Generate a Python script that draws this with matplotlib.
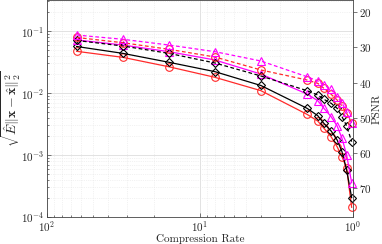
import numpy as np
import matplotlib
matplotlib.use("Agg")
import matplotlib.pyplot as plt
from matplotlib.ticker import LogLocator, NullFormatter

plt.rcParams['font.family'] = 'serif'
plt.rcParams['font.serif'] = ['cmr10', 'DejaVu Serif']
plt.rcParams['mathtext.fontset'] = 'cm'
plt.rcParams['axes.formatter.use_mathtext'] = True

# compression rates
cr = [64, 32, 16, 8, 4, 2, 1.70, 1.55, 1.39, 1.27, 1.18, 1.10, 1.02]

red_solid = [0.0470, 0.0376, 0.0265, 0.0179, 0.0109, 0.00453, 0.00353, 0.00270, 0.00197, 0.00136, 0.00094, 0.00061, 0.000143]
black_solid = [0.0562, 0.0436, 0.0313, 0.0221, 0.0132, 0.00567, 0.00431, 0.00324, 0.00244, 0.00175, 0.00113, 0.000573, 0.000205]
magenta_solid = [0.0716, 0.0594, 0.0464, 0.0341, 0.0202, 0.00964, 0.00752, 0.00567, 0.00415, 0.00294, 0.00186, 0.00100, 0.000357]
black_dashed = [0.0703, 0.0573, 0.0436, 0.0305, 0.0188, 0.0109, 0.00929, 0.00791, 0.00682, 0.00567, 0.00415, 0.00294, 0.00164]
red_dashed = [0.0786, 0.0647, 0.0507, 0.0381, 0.0235, 0.0162, 0.01432, 0.01191, 0.00953, 0.00771, 0.00617, 0.00471, 0.00328]
magenta_dashed = [0.0860, 0.0735, 0.0594, 0.0464, 0.0328, 0.0183, 0.01563, 0.01346, 0.01148, 0.00871, 0.00690, 0.00499, 0.00328]

psnr_ticks = [20, 30, 40, 50, 60, 70]

fig = plt.figure(figsize=(3.82, 2.44), dpi=100)
ax = fig.add_axes([0.123, 0.111, 0.801, 0.889])

RED = '#ff2a2a'
MAG = '#ff00ff'
BLK = '#000000'
ms = 5.5
lw = 0.9
series = [
    (red_solid, RED, '-', 'o'),
    (black_solid, BLK, '-', 'D'),
    (magenta_solid, MAG, '-', '^'),
    (black_dashed, BLK, '--', 'D'),
    (red_dashed, RED, '--', 'o'),
    (magenta_dashed, MAG, '--', '^'),
]
for vals, c, ls, m in series:
    mss = ms - 1.2 if m == 'D' else ms
    kw = dict(dashes=(3, 2)) if ls == '--' else {}
    ax.plot(cr, vals, color=c, linestyle=ls, linewidth=lw, marker=m,
            markersize=mss, markerfacecolor='none', markeredgecolor=c,
            markeredgewidth=0.8, clip_on=False, **kw)

ax.set_xscale('log')
ax.set_yscale('log')
ax.set_xlim(100, 1)
ax.set_ylim(1e-4, 10**-0.5)
ax.grid(True, which='major', color='#dddddd', linewidth=0.6, linestyle='-')
ax.grid(True, which='minor', color='#e6e6e6', linewidth=0.5, linestyle=':')
ax.yaxis.set_minor_locator(LogLocator(base=10, subs=np.arange(2, 10), numticks=20))
ax.yaxis.set_minor_formatter(NullFormatter())
ax.xaxis.set_minor_formatter(NullFormatter())

tc = '#262626'
for s in ax.spines.values():
    s.set_color('#444444')
    s.set_linewidth(0.6)
ax.tick_params(which='both', direction='in', colors='#444444', labelcolor=tc, labelsize=8, width=0.5, pad=2)
ax.tick_params(which='major', length=3)
ax.tick_params(which='minor', length=1.5)
ax.tick_params(axis='y', which='both', right=False)
ax.tick_params(axis='x', which='both', top=False)

ax.set_xlabel('Compression Rate', fontsize=8, color=tc, labelpad=0)
ax.set_ylabel(r'$\sqrt{\hat{E}\|\mathbf{x}-\hat{\mathbf{x}}\|_2^2}$', fontsize=10, color=tc)
ax.yaxis.set_label_coords(-0.08, 0.5)

ax2 = ax.twinx()
ax2.set_ylim(78.2, 16.5)
ax2.set_yticks(psnr_ticks)
ax2.tick_params(axis='y', direction='out', colors='#444444', labelcolor=tc, labelsize=8, length=3, width=0.5, pad=1)
for s in ax2.spines.values():
    s.set_visible(False)
ax2.set_ylabel('PSNR', fontsize=8, color=tc, labelpad=1)

fig.savefig('out.png', dpi=100)
